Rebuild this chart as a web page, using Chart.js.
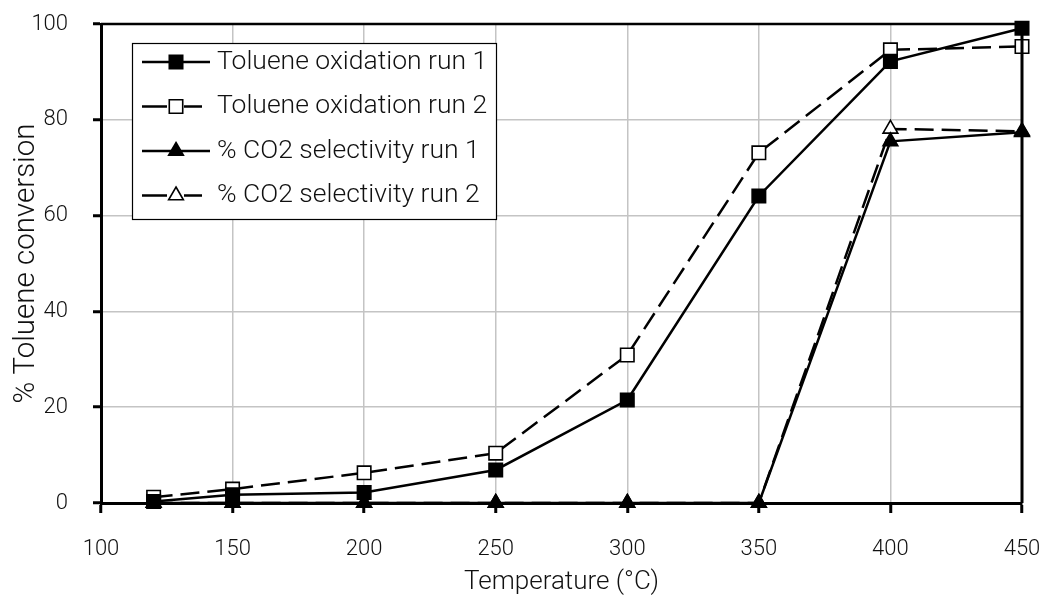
<!DOCTYPE html>
<html lang="en">
<head>
  <meta charset="UTF-8">
  <title>Toluene conversion vs temperature</title>
  <script src="https://cdn.jsdelivr.net/npm/chart.js"></script>
  <style>
    * { margin: 0; padding: 0; box-sizing: border-box; }
    body { width: 1051px; height: 605px; background: #fff; overflow: hidden; }
    #chartCanvas { display: block; }
  </style>
</head>
<body>
<canvas id="chartCanvas" width="1051" height="605"></canvas>

<script>
  // data
  const temps = [120, 150, 200, 250, 300, 350, 400, 450];
  const tolueneRun1 = [0.3, 1.7, 2.2, 6.9, 21.5, 64.1, 92.2, 99.1];
  const tolueneRun2 = [1.2, 2.9, 6.3, 10.4, 30.9, 73.1, 94.6, 95.3];
  const co2Run1 = [0, 0, 0, 0, 0, 0, 75.5, 77.4];
  const co2Run2 = [0, 0, 0, 0, 0, 0, 78.1, 77.6];
  const seriesLabels = ['Toluene oxidation run 1', 'Toluene oxidation run 2', '% CO2 selectivity run 1', '% CO2 selectivity run 2'];
  const xTitle = 'Temperature (°C)';
  const yTitle = '% Toluene conversion';

  const FONT = 'Roboto, "Open Sans", sans-serif';
  const TEXT = '#111';
  const DASH = [19, 8];

  const toPoints = (ys) => ys.map((y, i) => ({x: temps[i], y: y}));

  function makeSet(label, ys, style, filled, dashed) {
    return {
      label: label,
      data: toPoints(ys),
      borderColor: '#000',
      borderWidth: 2.5,
      borderDash: dashed ? DASH : [],
      pointStyle: style,
      pointRadius: style === 'rect' ? 9.5 : 8.5,
      pointBackgroundColor: filled ? '#000' : '#fff',
      pointBorderColor: '#000',
      pointBorderWidth: 1.6,
      tension: 0,
      clip: false
    };
  }

  // top and right frame lines + custom legend
  const framePlugin = {
    id: 'frame',
    afterDatasetsDraw(chart) {
      const {ctx, chartArea: a} = chart;
      ctx.save();
      ctx.strokeStyle = '#000';
      ctx.lineWidth = 2.5;
      ctx.beginPath();
      ctx.moveTo(a.left, a.top);
      ctx.lineTo(a.right, a.top);
      ctx.stroke();
      ctx.lineWidth = 3;
      ctx.beginPath();
      ctx.moveTo(a.right, a.top);
      ctx.lineTo(a.right, a.bottom);
      ctx.stroke();
      ctx.restore();
    },
    afterDraw(chart) {
      const ctx = chart.ctx;
      const box = {x: 132, y: 43, w: 364, h: 176};
      ctx.save();
      ctx.fillStyle = '#fff';
      ctx.fillRect(box.x, box.y, box.w, box.h);
      ctx.strokeStyle = '#000';
      ctx.lineWidth = 1.2;
      ctx.strokeRect(box.x + 0.5, box.y + 0.5, box.w, box.h);
      chart.data.datasets.forEach((ds, i) => {
        const y = 62 + i * 44.5;
        const dashed = ds.borderDash.length > 0;
        ctx.strokeStyle = '#000';
        ctx.lineWidth = 2.5;
        if (dashed) {
          ctx.beginPath();
          ctx.moveTo(142, y); ctx.lineTo(167, y);
          ctx.moveTo(184, y); ctx.lineTo(202, y);
          ctx.stroke();
        } else {
          ctx.beginPath();
          ctx.moveTo(142, y); ctx.lineTo(210, y);
          ctx.stroke();
        }
        ctx.fillStyle = ds.pointBackgroundColor;
        ctx.lineWidth = ds.pointBorderWidth;
        Chart.helpers.drawPoint(ctx, {
          pointStyle: ds.pointStyle,
          radius: ds.pointRadius,
          borderWidth: ds.pointBorderWidth,
          rotation: 0
        }, 176, y);
        ctx.fillStyle = TEXT;
        ctx.font = '300 26.5px ' + FONT;
        ctx.textBaseline = 'middle';
        ctx.textAlign = 'left';
        ctx.fillText(ds.label, 217, y);
      });
      ctx.restore();
    }
  };

  const ctx = document.getElementById('chartCanvas').getContext('2d');
  new Chart(ctx, {
    type: 'line',
    data: {
      datasets: [
        makeSet(seriesLabels[0], tolueneRun1, 'rect', true, false),
        makeSet(seriesLabels[1], tolueneRun2, 'rect', false, true),
        makeSet(seriesLabels[2], co2Run1, 'triangle', true, false),
        makeSet(seriesLabels[3], co2Run2, 'triangle', false, true)
      ]
    },
    options: {
      responsive: false,
      animation: false,
      layout: { padding: { left: 0, top: 24, right: 29, bottom: 0 } },
      plugins: { legend: { display: false }, tooltip: { enabled: false } },
      scales: {
        x: {
          type: 'linear',
          min: 100,
          max: 450,
          afterFit: (s) => { s.height = 102; s.paddingLeft = 0; s.paddingRight = 0; },
          ticks: { stepSize: 50, color: TEXT, font: { family: FONT, size: 22, weight: 300 }, padding: 23, maxRotation: 0 },
          grid: { color: '#c4c4c4', lineWidth: 1.5, tickColor: '#000', tickLength: 10, tickWidth: 3 },
          border: { color: '#000', width: 3 },
          title: { display: true, text: xTitle, color: TEXT, font: { family: FONT, size: 26, weight: 300 }, padding: { top: 0, bottom: 7 } }
        },
        y: {
          min: 0,
          max: 100,
          afterFit: (s) => { s.width = 101; s.paddingTop = 0; s.paddingBottom = 0; },
          ticks: { stepSize: 20, color: TEXT, font: { family: FONT, size: 22, weight: 300 }, padding: 25 },
          grid: { color: '#c4c4c4', lineWidth: 1.5, tickColor: '#000', tickLength: 8, tickWidth: 3 },
          border: { color: '#000', width: 3 },
          title: { display: true, text: yTitle, color: TEXT, font: { family: FONT, size: 29.5, weight: 300 }, padding: { top: 9, bottom: 0 } }
        }
      }
    },
    plugins: [framePlugin]
  });
</script>
</body>
</html>
